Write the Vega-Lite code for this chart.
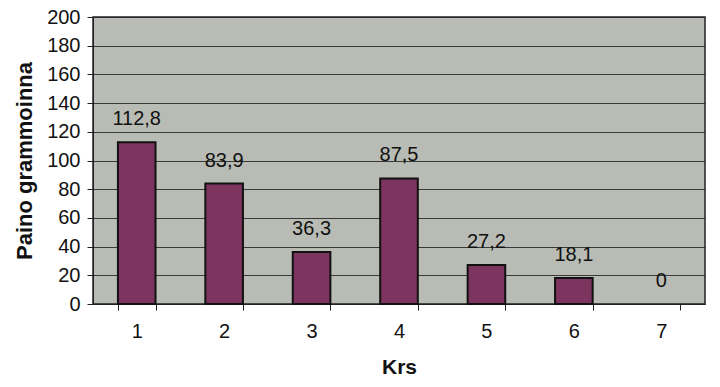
{
  "$schema": "https://vega.github.io/schema/vega-lite/v6.json",
  "width": 612,
  "height": 287,
  "autosize": {"type": "none"},
  "padding": {"left": 93, "top": 17, "right": 15, "bottom": 83},
  "background": "#ffffff",
  "config": {
    "font": "Liberation Sans",
    "view": {"fill": "#b8bcb4", "stroke": "#222222", "strokeWidth": 1.5}
  },
  "data": {
    "values": [
      {"krs": "1", "paino": 112.8, "label": "112,8"},
      {"krs": "2", "paino": 83.9, "label": "83,9"},
      {"krs": "3", "paino": 36.3, "label": "36,3"},
      {"krs": "4", "paino": 87.5, "label": "87,5"},
      {"krs": "5", "paino": 27.2, "label": "27,2"},
      {"krs": "6", "paino": 18.1, "label": "18,1"},
      {"krs": "7", "paino": 0, "label": "0"}
    ]
  },
  "encoding": {
    "x": {
      "field": "krs",
      "type": "ordinal",
      "scale": {"paddingInner": 0.57, "paddingOuter": 0.285},
      "axis": {
        "title": "Krs",
        "titleFontSize": 21,
        "titleFontWeight": "bold",
        "titleColor": "#111111",
        "titlePadding": 15,
        "labelAngle": 0,
        "labelFontSize": 20,
        "labelColor": "#111111",
        "labelPadding": 11,
        "tickBand": "extent",
        "tickSize": 6,
        "tickColor": "#222222",
        "domainColor": "#222222",
        "grid": false
      }
    },
    "y": {
      "field": "paino",
      "type": "quantitative",
      "scale": {"domain": [0, 200]},
      "axis": {
        "title": "Paino grammoinna",
        "titleFontSize": 22,
        "titleFontWeight": "bold",
        "titleColor": "#111111",
        "titlePadding": 10,
        "values": [0, 20, 40, 60, 80, 100, 120, 140, 160, 180, 200],
        "labelOverlap": false,
        "labelFontSize": 20,
        "labelColor": "#111111",
        "labelPadding": 7,
        "tickSize": 6,
        "tickColor": "#222222",
        "domainColor": "#222222",
        "grid": true,
        "gridColor": "#2a2a2a",
        "gridOpacity": 0.9,
        "gridWidth": 1
      }
    }
  },
  "layer": [
    {
      "mark": {"type": "bar", "fill": "#7d3560", "stroke": "#111111", "strokeWidth": 2},
      "encoding": {
        "strokeOpacity": {"condition": {"test": "datum.paino == 0", "value": 0}, "value": 1}
      }
    },
    {
      "mark": {"type": "text", "fontSize": 20, "color": "#111111", "baseline": "middle", "dy": -23},
      "encoding": {
        "text": {"field": "label"}
      }
    }
  ]
}
